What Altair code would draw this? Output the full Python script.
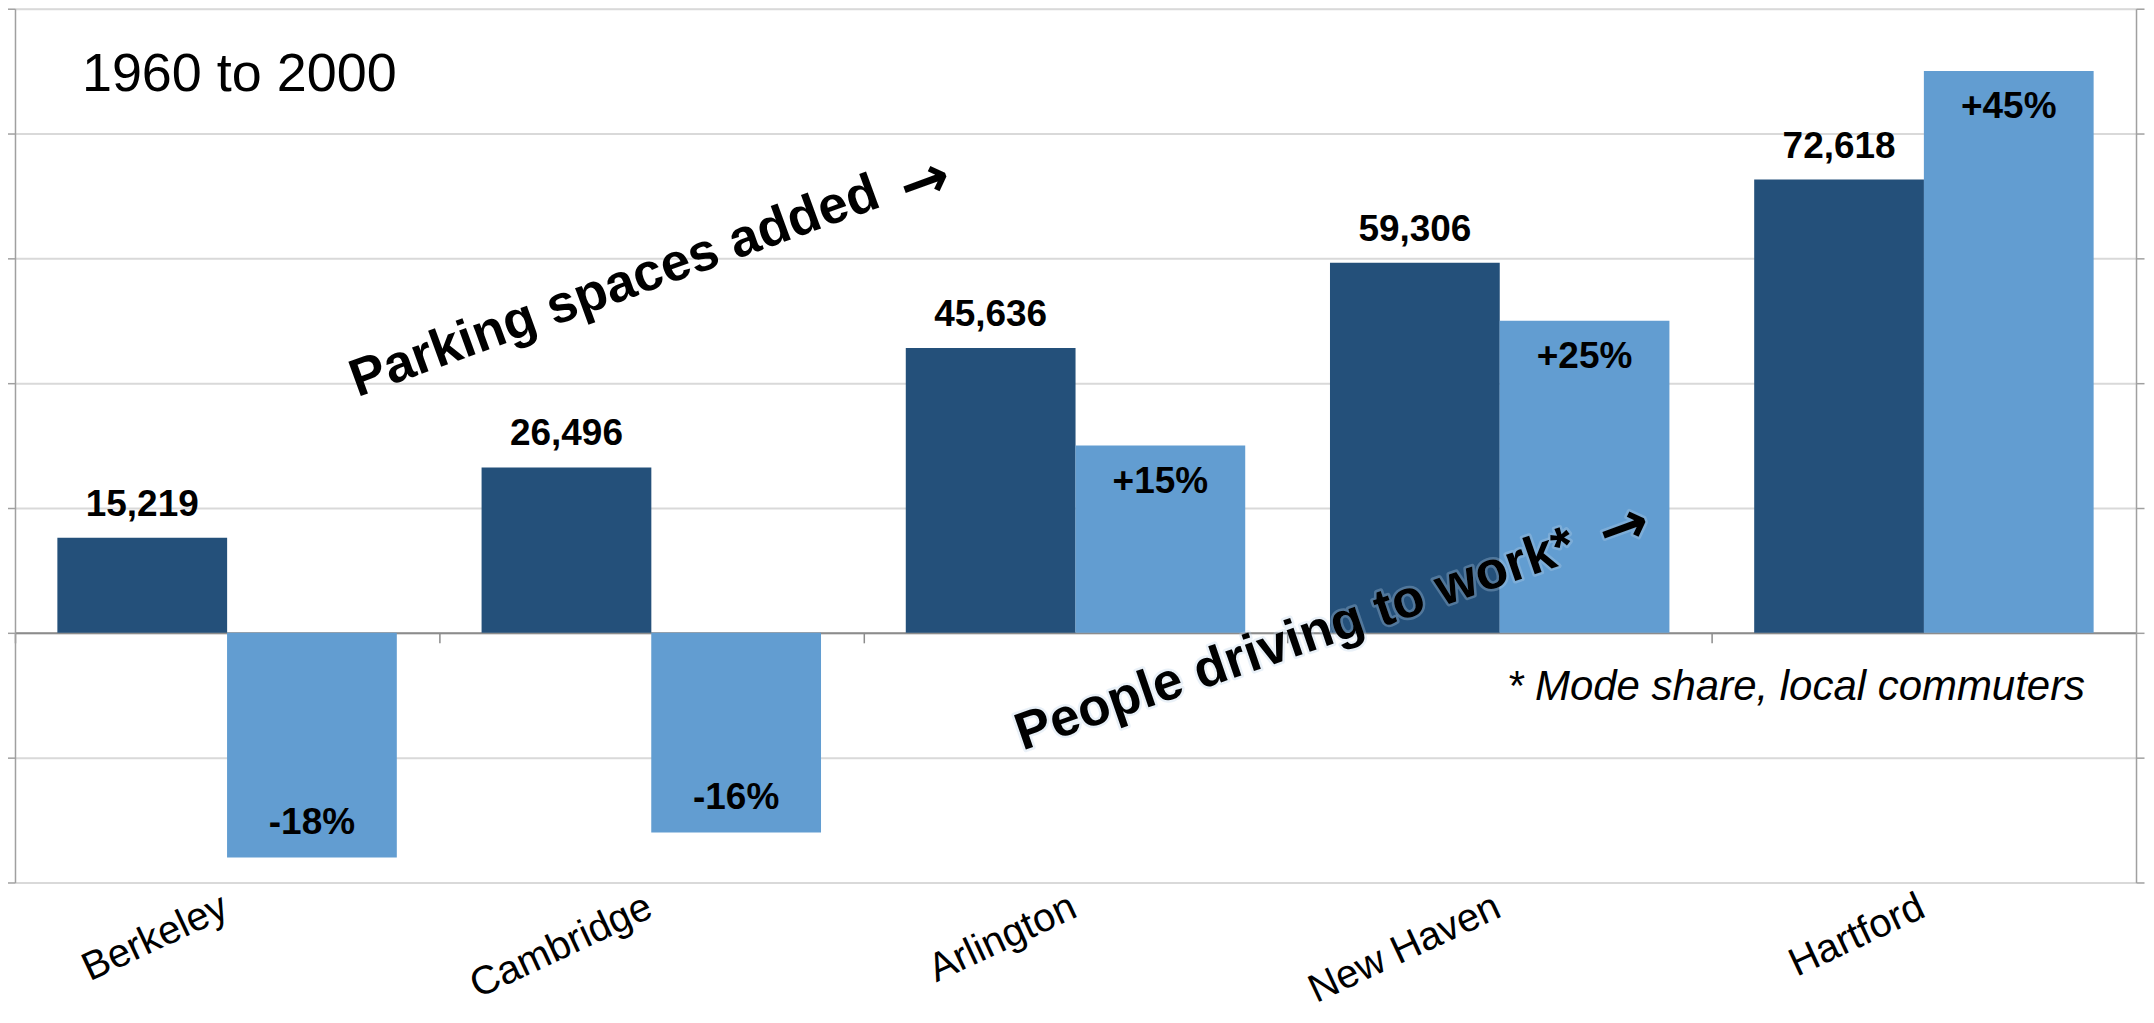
import altair as alt
import pandas as pd

# ---- data ----
cities = ["Berkeley", "Cambridge", "Arlington", "New Haven", "Hartford"]
parking_added = [15219, 26496, 45636, 59306, 72618]
driving_change = [-18, -16, 15, 25, 45]

parking_ticks = [-40000, -20000, 0, 20000, 40000, 60000, 80000, 100000]
driving_ticks = [-20, -10, 0, 10, 20, 30, 40, 50]

title_text = ["1960 to 2000"]
parking_note = ["Parking spaces added"]
driving_note = ["People driving to work*"]
arrow_text = ["\u2192"]
footnote = ["* Mode share, local commuters"]

DARK = "#24507a"
LIGHT = "#629dd1"
GRID = "#d9d9d9"
AXIS = "#a0a0a0"
FONT = "Liberation Sans"

W, H = 2124, 875

park_df = pd.DataFrame({
    "city": cities,
    "value": parking_added,
    "series": ["parking"] * len(cities),
    "label": [f"{v:,}" for v in parking_added],
})
drive_df = pd.DataFrame({
    "city": cities,
    "value": driving_change,
    "series": ["driving"] * len(cities),
    "label": [f"{v:+d}%" for v in driving_change],
})

x_enc = alt.X(
    "city:N",
    sort=cities,
    scale=alt.Scale(domain=cities, paddingInner=0.2, paddingOuter=0.1),
    axis=alt.Axis(
        title=None,
        orient="bottom",
        offset=-250,
        domain=True,
        domainColor="#8c8c8c",
        domainWidth=2,
        ticks=True,
        tickColor="#8c8c8c",
        tickWidth=1.5,
        tickSize=10,
        bandPosition=0,
        tickOffset=-42.5,
        labelOffset=32,
        labelPadding=244,
        labelAngle=335,
        labelAlign="right",
        labelBaseline="top",
        labelFont=FONT,
        labelFontSize=40,
        labelLimit=0,
        labelColor="black",
        grid=False,
    ),
)
xoff = alt.XOffset(
    "series:N", scale=alt.Scale(domain=["parking", "driving"], paddingInner=0, paddingOuter=0)
)

park_y = alt.Y(
    "value:Q",
    scale=alt.Scale(domain=[-40000, 100000], nice=False, zero=False),
    axis=alt.Axis(
        title=None,
        orient="left",
        values=parking_ticks,
        labels=False,
        ticks=True,
        tickSize=8,
        tickColor=AXIS,
        tickWidth=1.5,
        domain=True,
        domainColor=AXIS,
        domainWidth=1.5,
        grid=True,
        gridColor=GRID,
        gridWidth=2,
    ),
)
drive_y = alt.Y(
    "value:Q",
    scale=alt.Scale(domain=[-20, 50], nice=False, zero=False),
    axis=alt.Axis(
        title=None,
        orient="right",
        values=driving_ticks,
        labels=False,
        ticks=True,
        tickSize=8,
        tickColor=AXIS,
        tickWidth=1.5,
        domain=True,
        domainColor=AXIS,
        domainWidth=1.5,
        grid=False,
    ),
)

NUM = dict(font=FONT, fontWeight="bold", fontSize=37, color="black")

park_base = alt.Chart(park_df).encode(x=x_enc, xOffset=xoff, y=park_y)
park_bars = park_base.mark_bar(color=DARK, size=170)
park_text = park_base.mark_text(baseline="bottom", dy=-14, **NUM).encode(text="label:N")
park_layer = alt.layer(park_bars, park_text)

drive_base = alt.Chart(drive_df).encode(x=x_enc, xOffset=xoff, y=drive_y)
drive_bars = drive_base.mark_bar(color=LIGHT, size=170)
drive_text_pos = drive_base.mark_text(baseline="top", dy=18, **NUM).encode(
    text="label:N"
).transform_filter("datum.value > 0")
drive_text_neg = drive_base.mark_text(baseline="bottom", dy=-16, **NUM).encode(
    text="label:N"
).transform_filter("datum.value < 0")
drive_layer = alt.layer(drive_bars, drive_text_pos, drive_text_neg)


def note(texts, x, y, size, font=FONT, weight="bold", angle=340, **kw):
    return alt.Chart(pd.DataFrame({"t": texts})).mark_text(
        align="left", baseline="alphabetic", font=font, fontSize=size,
        fontWeight=weight, angle=angle, **kw
    ).encode(x=alt.value(x), y=alt.value(y), text="t:N")


title_mark = alt.Chart(pd.DataFrame({"t": title_text})).mark_text(
    align="left", baseline="alphabetic", font=FONT, fontSize=54, color="black"
).encode(x=alt.value(67), y=alt.value(82), text="t:N")

park_note_mark = note(parking_note, 343, 389, 53, color="black")
park_arrow = note(arrow_text, 894, 200, 60, font="DejaVu Sans", color="black")

GLOW = dict(color="#bcd3ea", stroke="#bcd3ea", strokeWidth=5, strokeOpacity=0.55,
            opacity=0.55, strokeJoin="round")
drive_glow = note(driving_note, 1009, 743, 53, angle=341, **GLOW)
drive_arrow_glow = note(arrow_text, 1594, 546, 60, font="DejaVu Sans", **GLOW)
drive_note_mark = note(driving_note, 1009, 743, 53, angle=341, color="black")
drive_arrow = note(arrow_text, 1594, 546, 60, font="DejaVu Sans", color="black")

foot_mark = alt.Chart(pd.DataFrame({"t": footnote})).mark_text(
    align="right", baseline="alphabetic", font=FONT, fontSize=42, fontStyle="italic",
    color="black"
).encode(x=alt.value(2073), y=alt.value(692), text="t:N")

chart = (
    alt.layer(
        park_layer,
        drive_layer,
        title_mark,
        park_note_mark,
        park_arrow,
        drive_glow,
        drive_arrow_glow,
        drive_note_mark,
        drive_arrow,
        foot_mark,
    )
    .resolve_scale(y="independent")
    .properties(
        width=W,
        height=H,
        autosize=alt.AutoSizeParams(type="none"),
        padding={"left": 7, "right": 10, "top": 0, "bottom": 132},
    )
    .configure_view(stroke=None)
    .configure(background="white")
)

chart.save("out.html", embed_options={"renderer": "svg", "actions": False})
